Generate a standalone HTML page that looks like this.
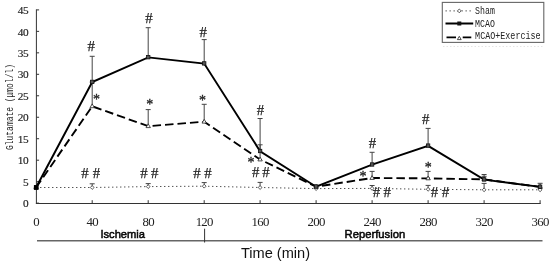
<!DOCTYPE html>
<html><head><meta charset="utf-8"><title>Glutamate chart</title>
<style>html,body{margin:0;padding:0;background:#fff}svg{display:block}text{font-family:"Liberation Serif",serif;fill:#222}.mono{font-family:"Liberation Mono",monospace;fill:#222}.sans{font-family:"Liberation Sans",sans-serif;fill:#111}</style></head><body>
<svg width="550" height="262" viewBox="0 0 550 262">
<rect width="550" height="262" fill="#fff"/>
<g stroke="#333" stroke-width="1" fill="none">
<path d="M36.4 9.4 V203.7"/>
<path d="M35.9 203.5 H540.7"/>
<path d="M36.4 9.90 h2.7"/>
<path d="M36.4 31.37 h2.7"/>
<path d="M36.4 52.84 h2.7"/>
<path d="M36.4 74.31 h2.7"/>
<path d="M36.4 95.78 h2.7"/>
<path d="M36.4 117.25 h2.7"/>
<path d="M36.4 138.72 h2.7"/>
<path d="M36.4 160.19 h2.7"/>
<path d="M36.4 181.66 h2.7"/>
<path d="M36.4 203.13 h2.7"/>
<path d="M92.2 203.5 v-3.3"/>
<path d="M148.2 203.5 v-3.3"/>
<path d="M204.2 203.5 v-3.3"/>
<path d="M260.1 203.5 v-3.3"/>
<path d="M316.1 203.5 v-3.3"/>
<path d="M372.1 203.5 v-3.3"/>
<path d="M428.1 203.5 v-3.3"/>
<path d="M484.1 203.5 v-3.3"/>
<path d="M540.1 203.5 v-3.3"/>
</g>
<text transform="translate(28.0 14.05) scale(1.05 1)" font-size="10.8" text-anchor="end" letter-spacing="-0.54" stroke="#222" stroke-width="0.15">45</text>
<text transform="translate(28.0 35.52) scale(1.05 1)" font-size="10.8" text-anchor="end" letter-spacing="-0.54" stroke="#222" stroke-width="0.15">40</text>
<text transform="translate(28.0 56.99) scale(1.05 1)" font-size="10.8" text-anchor="end" letter-spacing="-0.54" stroke="#222" stroke-width="0.15">35</text>
<text transform="translate(28.0 78.46) scale(1.05 1)" font-size="10.8" text-anchor="end" letter-spacing="-0.54" stroke="#222" stroke-width="0.15">30</text>
<text transform="translate(28.0 99.93) scale(1.05 1)" font-size="10.8" text-anchor="end" letter-spacing="-0.54" stroke="#222" stroke-width="0.15">25</text>
<text transform="translate(28.0 121.40) scale(1.05 1)" font-size="10.8" text-anchor="end" letter-spacing="-0.54" stroke="#222" stroke-width="0.15">20</text>
<text transform="translate(28.0 142.87) scale(1.05 1)" font-size="10.8" text-anchor="end" letter-spacing="-0.54" stroke="#222" stroke-width="0.15">15</text>
<text transform="translate(28.0 164.34) scale(1.05 1)" font-size="10.8" text-anchor="end" letter-spacing="-0.54" stroke="#222" stroke-width="0.15">10</text>
<text transform="translate(28.0 185.81) scale(1.05 1)" font-size="10.8" text-anchor="end" letter-spacing="-0.54" stroke="#222" stroke-width="0.15">5</text>
<text transform="translate(28.0 207.28) scale(1.05 1)" font-size="10.8" text-anchor="end" letter-spacing="-0.54" stroke="#222" stroke-width="0.15">0</text>
<text transform="translate(36.1 225.7) scale(1.06 1)" font-size="12.1" text-anchor="middle" letter-spacing="-0.7">0</text>
<text transform="translate(92.2 225.7) scale(1.06 1)" font-size="12.1" text-anchor="middle" letter-spacing="-0.7">40</text>
<text transform="translate(148.2 225.7) scale(1.06 1)" font-size="12.1" text-anchor="middle" letter-spacing="-0.7">80</text>
<text transform="translate(204.2 225.7) scale(1.06 1)" font-size="12.1" text-anchor="middle" letter-spacing="-0.7">120</text>
<text transform="translate(260.1 225.7) scale(1.06 1)" font-size="12.1" text-anchor="middle" letter-spacing="-0.7">160</text>
<text transform="translate(316.1 225.7) scale(1.06 1)" font-size="12.1" text-anchor="middle" letter-spacing="-0.7">200</text>
<text transform="translate(372.1 225.7) scale(1.06 1)" font-size="12.1" text-anchor="middle" letter-spacing="-0.7">240</text>
<text transform="translate(428.1 225.7) scale(1.06 1)" font-size="12.1" text-anchor="middle" letter-spacing="-0.7">280</text>
<text transform="translate(484.1 225.7) scale(1.06 1)" font-size="12.1" text-anchor="middle" letter-spacing="-0.7">320</text>
<text transform="translate(540.1 225.7) scale(1.06 1)" font-size="12.1" text-anchor="middle" letter-spacing="-0.7">360</text>
<text class="mono" transform="translate(13.1 150) rotate(-90)" font-size="10.6" textLength="86" lengthAdjust="spacingAndGlyphs">Glutamate (μmol/l)</text>
<polyline points="36.1,187.5 92.2,187.5 148.2,186.6 204.2,186.2 260.1,187.5 316.1,188.6 372.1,188.4 428.1,189.3 484.1,189.8 540.1,189.8" fill="none" stroke="#444" stroke-width="1" stroke-dasharray="1.3 2.7"/>
<g stroke="#444" stroke-width="1" fill="none">
<path d="M92.2 82.1 V56.3 M89.7 56.3 h5"/>
<path d="M148.2 57.4 V27.7 M145.7 27.7 h5"/>
<path d="M204.2 63.6 V39.6 M201.7 39.6 h5"/>
<path d="M260.1 151.2 V118.5 M257.6 118.5 h5"/>
<path d="M372.1 164.7 V152.3 M369.6 152.3 h5"/>
<path d="M428.1 145.8 V128.4 M425.6 128.4 h5"/>
<path d="M484.1 179.6 V174.5 M481.6 174.5 h5"/>
<path d="M540.1 186.9 V183.3 M537.6 183.3 h5"/>
<path d="M92.2 106.3 V82.1 M89.7 82.1 h5"/>
<path d="M148.2 126.2 V109.6 M145.7 109.6 h5"/>
<path d="M204.2 121.7 V104.3 M201.7 104.3 h5"/>
<path d="M260.1 159.5 V144.8 M257.6 144.8 h5"/>
<path d="M372.1 178.0 V171.4 M369.6 171.4 h5"/>
<path d="M428.1 178.4 V171.4 M425.6 171.4 h5"/>
<path d="M484.1 179.4 V176.3 M481.6 176.3 h5"/>
<path d="M92.2 187.5 V183.8 M89.7 183.8 h5"/>
<path d="M148.2 186.6 V183.6 M145.7 183.6 h5"/>
<path d="M204.2 186.2 V182.6 M201.7 182.6 h5"/>
<path d="M260.1 187.5 V182.4 M257.6 182.4 h5"/>
<path d="M372.1 188.4 V185.5 M369.6 185.5 h5"/>
<path d="M428.1 189.3 V185.4 M425.6 185.4 h5"/>
<path d="M484.1 189.8 V183.4 M481.6 183.4 h5"/>
</g>
<polyline points="36.1,187.5 92.2,106.3 148.2,126.2 204.2,121.7 260.1,159.5 316.1,186.7 372.1,178.0 428.1,178.4 484.1,179.4 540.1,186.9" fill="none" stroke="#000" stroke-width="1.9" stroke-dasharray="8.5 4" stroke-linejoin="round"/>
<polyline points="36.1,187.5 92.2,82.1 148.2,57.4 204.2,63.6 260.1,151.2 316.1,186.7 372.1,164.7 428.1,145.8 484.1,179.6 540.1,186.9" fill="none" stroke="#000" stroke-width="1.95" stroke-linejoin="miter"/>
<path d="M36.1 185.6 l1.9 1.9 l-1.9 1.9 l-1.9 -1.9 z" fill="#fff" stroke="#333" stroke-width="0.8"/>
<path d="M92.2 185.6 l1.9 1.9 l-1.9 1.9 l-1.9 -1.9 z" fill="#fff" stroke="#333" stroke-width="0.8"/>
<path d="M148.2 184.7 l1.9 1.9 l-1.9 1.9 l-1.9 -1.9 z" fill="#fff" stroke="#333" stroke-width="0.8"/>
<path d="M204.2 184.3 l1.9 1.9 l-1.9 1.9 l-1.9 -1.9 z" fill="#fff" stroke="#333" stroke-width="0.8"/>
<path d="M260.1 185.6 l1.9 1.9 l-1.9 1.9 l-1.9 -1.9 z" fill="#fff" stroke="#333" stroke-width="0.8"/>
<path d="M316.1 186.7 l1.9 1.9 l-1.9 1.9 l-1.9 -1.9 z" fill="#fff" stroke="#333" stroke-width="0.8"/>
<path d="M372.1 186.5 l1.9 1.9 l-1.9 1.9 l-1.9 -1.9 z" fill="#fff" stroke="#333" stroke-width="0.8"/>
<path d="M428.1 187.4 l1.9 1.9 l-1.9 1.9 l-1.9 -1.9 z" fill="#fff" stroke="#333" stroke-width="0.8"/>
<path d="M484.1 187.9 l1.9 1.9 l-1.9 1.9 l-1.9 -1.9 z" fill="#fff" stroke="#333" stroke-width="0.8"/>
<path d="M540.1 187.9 l1.9 1.9 l-1.9 1.9 l-1.9 -1.9 z" fill="#fff" stroke="#333" stroke-width="0.8"/>
<path d="M36.1 185.1 l2.2 3.8 h-4.4 z" fill="#fff" stroke="#222" stroke-width="0.8"/>
<path d="M92.2 103.9 l2.2 3.8 h-4.4 z" fill="#fff" stroke="#222" stroke-width="0.8"/>
<path d="M148.2 123.8 l2.2 3.8 h-4.4 z" fill="#fff" stroke="#222" stroke-width="0.8"/>
<path d="M204.2 119.3 l2.2 3.8 h-4.4 z" fill="#fff" stroke="#222" stroke-width="0.8"/>
<path d="M260.1 157.1 l2.2 3.8 h-4.4 z" fill="#fff" stroke="#222" stroke-width="0.8"/>
<path d="M316.1 184.3 l2.2 3.8 h-4.4 z" fill="#fff" stroke="#222" stroke-width="0.8"/>
<path d="M372.1 175.6 l2.2 3.8 h-4.4 z" fill="#fff" stroke="#222" stroke-width="0.8"/>
<path d="M428.1 176.0 l2.2 3.8 h-4.4 z" fill="#fff" stroke="#222" stroke-width="0.8"/>
<path d="M484.1 177.0 l2.2 3.8 h-4.4 z" fill="#fff" stroke="#222" stroke-width="0.8"/>
<path d="M540.1 184.5 l2.2 3.8 h-4.4 z" fill="#fff" stroke="#222" stroke-width="0.8"/>
<rect x="34.4" y="185.6" width="3.4" height="3.4" fill="#555" stroke="#111" stroke-width="0.8"/>
<rect x="90.5" y="80.2" width="3.4" height="3.4" fill="#555" stroke="#111" stroke-width="0.8"/>
<rect x="146.5" y="55.5" width="3.4" height="3.4" fill="#555" stroke="#111" stroke-width="0.8"/>
<rect x="202.5" y="61.7" width="3.4" height="3.4" fill="#555" stroke="#111" stroke-width="0.8"/>
<rect x="258.4" y="149.3" width="3.4" height="3.4" fill="#555" stroke="#111" stroke-width="0.8"/>
<rect x="314.4" y="184.8" width="3.4" height="3.4" fill="#555" stroke="#111" stroke-width="0.8"/>
<rect x="370.4" y="162.8" width="3.4" height="3.4" fill="#555" stroke="#111" stroke-width="0.8"/>
<rect x="426.4" y="143.9" width="3.4" height="3.4" fill="#555" stroke="#111" stroke-width="0.8"/>
<rect x="482.4" y="177.7" width="3.4" height="3.4" fill="#555" stroke="#111" stroke-width="0.8"/>
<rect x="538.4" y="185.0" width="3.4" height="3.4" fill="#555" stroke="#111" stroke-width="0.8"/>
<rect x="33.9" y="185.2" width="4.6" height="4.6" fill="#000"/>
<text x="91.2" y="51.1" font-size="15.6" text-anchor="middle" textLength="7.4" lengthAdjust="spacingAndGlyphs" stroke="#222" stroke-width="0.25">#</text>
<text x="149.0" y="22.6" font-size="15.6" text-anchor="middle" textLength="7.4" lengthAdjust="spacingAndGlyphs" stroke="#222" stroke-width="0.25">#</text>
<text x="203.2" y="36.6" font-size="15.6" text-anchor="middle" textLength="7.4" lengthAdjust="spacingAndGlyphs" stroke="#222" stroke-width="0.25">#</text>
<text x="260.5" y="114.8" font-size="15.6" text-anchor="middle" textLength="7.4" lengthAdjust="spacingAndGlyphs" stroke="#222" stroke-width="0.25">#</text>
<text x="372.5" y="148.1" font-size="15.6" text-anchor="middle" textLength="7.4" lengthAdjust="spacingAndGlyphs" stroke="#222" stroke-width="0.25">#</text>
<text x="425.8" y="124.2" font-size="15.6" text-anchor="middle" textLength="7.4" lengthAdjust="spacingAndGlyphs" stroke="#222" stroke-width="0.25">#</text>
<text x="85.0" y="177.9" font-size="15.6" text-anchor="middle" textLength="7.4" lengthAdjust="spacingAndGlyphs" stroke="#222" stroke-width="0.25">#</text>
<text x="96.4" y="177.9" font-size="15.6" text-anchor="middle" textLength="7.4" lengthAdjust="spacingAndGlyphs" stroke="#222" stroke-width="0.25">#</text>
<text x="144.0" y="177.6" font-size="15.6" text-anchor="middle" textLength="7.4" lengthAdjust="spacingAndGlyphs" stroke="#222" stroke-width="0.25">#</text>
<text x="154.6" y="177.6" font-size="15.6" text-anchor="middle" textLength="7.4" lengthAdjust="spacingAndGlyphs" stroke="#222" stroke-width="0.25">#</text>
<text x="197.0" y="177.6" font-size="15.6" text-anchor="middle" textLength="7.4" lengthAdjust="spacingAndGlyphs" stroke="#222" stroke-width="0.25">#</text>
<text x="208.0" y="177.6" font-size="15.6" text-anchor="middle" textLength="7.4" lengthAdjust="spacingAndGlyphs" stroke="#222" stroke-width="0.25">#</text>
<text x="255.6" y="177.2" font-size="15.6" text-anchor="middle" textLength="7.4" lengthAdjust="spacingAndGlyphs" stroke="#222" stroke-width="0.25">#</text>
<text x="266.0" y="177.2" font-size="15.6" text-anchor="middle" textLength="7.4" lengthAdjust="spacingAndGlyphs" stroke="#222" stroke-width="0.25">#</text>
<text x="376.4" y="196.9" font-size="15.6" text-anchor="middle" textLength="7.4" lengthAdjust="spacingAndGlyphs" stroke="#222" stroke-width="0.25">#</text>
<text x="387.3" y="196.9" font-size="15.6" text-anchor="middle" textLength="7.4" lengthAdjust="spacingAndGlyphs" stroke="#222" stroke-width="0.25">#</text>
<text x="434.5" y="196.9" font-size="15.6" text-anchor="middle" textLength="7.4" lengthAdjust="spacingAndGlyphs" stroke="#222" stroke-width="0.25">#</text>
<text x="445.4" y="196.9" font-size="15.6" text-anchor="middle" textLength="7.4" lengthAdjust="spacingAndGlyphs" stroke="#222" stroke-width="0.25">#</text>
<text x="96.5" y="104.2" font-size="14" text-anchor="middle" stroke="#222" stroke-width="0.3">*</text>
<text x="149.8" y="109.0" font-size="14" text-anchor="middle" stroke="#222" stroke-width="0.3">*</text>
<text x="202.5" y="104.6" font-size="14" text-anchor="middle" stroke="#222" stroke-width="0.3">*</text>
<text x="251.1" y="166.8" font-size="14" text-anchor="middle" stroke="#222" stroke-width="0.3">*</text>
<text x="363.1" y="181.2" font-size="14" text-anchor="middle" stroke="#222" stroke-width="0.3">*</text>
<text x="428.2" y="171.9" font-size="14" text-anchor="middle" stroke="#222" stroke-width="0.3">*</text>
<rect x="442.3" y="2.4" width="101.5" height="40" fill="#fff" stroke="#666" stroke-width="1.1"/>
<path d="M443 46.5 H544" stroke="#ddd" stroke-width="0.8" stroke-dasharray="1.5 2" fill="none"/>
<path d="M445.5 10.9 H471.5" stroke="#444" stroke-width="1" stroke-dasharray="1.3 2.7" fill="none"/>
<path d="M459.3 9.0 l1.9 1.9 l-1.9 1.9 l-1.9 -1.9 z" fill="#fff" stroke="#333" stroke-width="0.8"/>
<path d="M445.5 23.5 H473.2" stroke="#000" stroke-width="2.0" fill="none"/>
<rect x="457.3" y="21.5" width="4" height="4" fill="#111"/>
<path d="M446.5 37.3 H456 M462.7 37.3 H471.3" stroke="#000" stroke-width="1.7" fill="none"/>
<path d="M459.3 36.3 l1.9 3.3 h-3.8 z" fill="#fff" stroke="#222" stroke-width="0.8"/>
<text class="mono" x="475.1" y="13.7" font-size="10.3" textLength="19.8" lengthAdjust="spacingAndGlyphs">Sham</text>
<text class="mono" x="475.1" y="26.7" font-size="10.3" textLength="19.8" lengthAdjust="spacingAndGlyphs">MCAO</text>
<text class="mono" x="475.1" y="39.1" font-size="10.3" textLength="65.5" lengthAdjust="spacingAndGlyphs">MCAO+Exercise</text>
<path d="M37 240.8 H542.5" stroke="#666" stroke-width="1.4" fill="none"/>
<path d="M204.6 228.7 V242.5" stroke="#333" stroke-width="1" fill="none"/>
<text class="sans" x="100.4" y="237.7" font-size="11.15" stroke="#000" stroke-width="0.5">Ischemia</text>
<text class="sans" x="344.6" y="237.6" font-size="11.25" stroke="#000" stroke-width="0.5">Reperfusion</text>
<text class="sans" x="240.9" y="257.5" font-size="14.6">Time (min)</text>
</svg></body></html>
